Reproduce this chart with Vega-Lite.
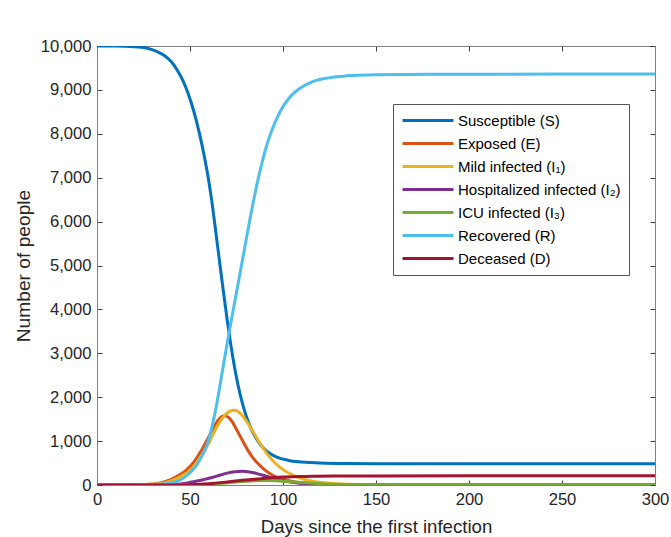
{
  "$schema": "https://vega.github.io/schema/vega-lite/v6.json",
  "width": 558,
  "height": 439,
  "autosize": {"type": "none"},
  "padding": {"left": 97, "top": 46, "right": 16, "bottom": 52},
  "background": "white",
  "config": {
    "font": "Liberation Sans",
    "view": {"stroke": null},
    "axis": {
      "domainColor": "#808080",
      "tickColor": "#404040",
      "tickSize": -5,
      "labelFont": "Liberation Sans",
      "labelFontSize": 16.6,
      "labelColor": "#262626",
      "labelPadding": 11,
      "labelFlush": false,
      "labelOverlap": false,
      "titleFont": "Liberation Sans",
      "titleFontWeight": "normal",
      "titleColor": "#262626",
      "grid": false
    }
  },
  "data": {
    "values": [
      {"s":"S","t":0,"v":10000},{"s":"S","t":10,"v":9998},{"s":"S","t":20,"v":9985},{"s":"S","t":27,"v":9950},{"s":"S","t":32,"v":9880},{"s":"S","t":36,"v":9790},{"s":"S","t":40,"v":9640},{"s":"S","t":43,"v":9460},{"s":"S","t":46,"v":9230},{"s":"S","t":49,"v":8920},{"s":"S","t":52,"v":8520},{"s":"S","t":55,"v":8020},{"s":"S","t":58,"v":7420},{"s":"S","t":60,"v":6950},{"s":"S","t":62,"v":6380},{"s":"S","t":64,"v":5720},{"s":"S","t":66,"v":5050},{"s":"S","t":68,"v":4390},{"s":"S","t":70,"v":3760},{"s":"S","t":72,"v":3180},{"s":"S","t":74,"v":2670},{"s":"S","t":76,"v":2240},{"s":"S","t":78,"v":1890},{"s":"S","t":80,"v":1600},{"s":"S","t":82,"v":1370},{"s":"S","t":84,"v":1180},{"s":"S","t":86,"v":1030},{"s":"S","t":88,"v":910},{"s":"S","t":90,"v":820},{"s":"S","t":93,"v":720},{"s":"S","t":97,"v":630},{"s":"S","t":103,"v":560},{"s":"S","t":110,"v":525},{"s":"S","t":120,"v":500},{"s":"S","t":135,"v":488},{"s":"S","t":150,"v":485},{"s":"S","t":200,"v":485},{"s":"S","t":250,"v":485},{"s":"S","t":300,"v":485},
      {"s":"E","t":0,"v":0},{"s":"E","t":20,"v":5},{"s":"E","t":30,"v":25},{"s":"E","t":35,"v":60},{"s":"E","t":40,"v":130},{"s":"E","t":44,"v":220},{"s":"E","t":48,"v":340},{"s":"E","t":52,"v":520},{"s":"E","t":56,"v":780},{"s":"E","t":60,"v":1090},{"s":"E","t":63,"v":1330},{"s":"E","t":65,"v":1470},{"s":"E","t":67,"v":1560},{"s":"E","t":69,"v":1580},{"s":"E","t":71,"v":1530},{"s":"E","t":73,"v":1420},{"s":"E","t":75,"v":1270},{"s":"E","t":77,"v":1110},{"s":"E","t":79,"v":950},{"s":"E","t":81,"v":800},{"s":"E","t":83,"v":670},{"s":"E","t":86,"v":510},{"s":"E","t":90,"v":350},{"s":"E","t":95,"v":210},{"s":"E","t":100,"v":130},{"s":"E","t":105,"v":80},{"s":"E","t":110,"v":48},{"s":"E","t":120,"v":18},{"s":"E","t":140,"v":4},{"s":"E","t":170,"v":0},{"s":"E","t":300,"v":0},
      {"s":"I1","t":0,"v":0},{"s":"I1","t":20,"v":3},{"s":"I1","t":30,"v":15},{"s":"I1","t":36,"v":45},{"s":"I1","t":41,"v":110},{"s":"I1","t":45,"v":190},{"s":"I1","t":49,"v":300},{"s":"I1","t":53,"v":470},{"s":"I1","t":57,"v":720},{"s":"I1","t":61,"v":1030},{"s":"I1","t":64,"v":1290},{"s":"I1","t":67,"v":1500},{"s":"I1","t":70,"v":1640},{"s":"I1","t":72,"v":1690},{"s":"I1","t":74,"v":1700},{"s":"I1","t":76,"v":1670},{"s":"I1","t":78,"v":1590},{"s":"I1","t":80,"v":1480},{"s":"I1","t":83,"v":1280},{"s":"I1","t":86,"v":1060},{"s":"I1","t":89,"v":860},{"s":"I1","t":92,"v":680},{"s":"I1","t":96,"v":490},{"s":"I1","t":100,"v":350},{"s":"I1","t":105,"v":230},{"s":"I1","t":110,"v":145},{"s":"I1","t":116,"v":85},{"s":"I1","t":125,"v":40},{"s":"I1","t":140,"v":12},{"s":"I1","t":160,"v":3},{"s":"I1","t":200,"v":0},{"s":"I1","t":300,"v":0},
      {"s":"I2","t":0,"v":0},{"s":"I2","t":30,"v":2},{"s":"I2","t":40,"v":10},{"s":"I2","t":47,"v":35},{"s":"I2","t":52,"v":72},{"s":"I2","t":57,"v":120},{"s":"I2","t":62,"v":172},{"s":"I2","t":66,"v":222},{"s":"I2","t":70,"v":270},{"s":"I2","t":74,"v":302},{"s":"I2","t":78,"v":315},{"s":"I2","t":82,"v":298},{"s":"I2","t":86,"v":260},{"s":"I2","t":91,"v":200},{"s":"I2","t":95,"v":150},{"s":"I2","t":100,"v":100},{"s":"I2","t":107,"v":52},{"s":"I2","t":115,"v":25},{"s":"I2","t":125,"v":10},{"s":"I2","t":140,"v":3},{"s":"I2","t":170,"v":0},{"s":"I2","t":300,"v":0},
      {"s":"I3","t":0,"v":0},{"s":"I3","t":40,"v":2},{"s":"I3","t":55,"v":12},{"s":"I3","t":65,"v":35},{"s":"I3","t":75,"v":70},{"s":"I3","t":85,"v":95},{"s":"I3","t":92,"v":100},{"s":"I3","t":100,"v":85},{"s":"I3","t":110,"v":55},{"s":"I3","t":120,"v":30},{"s":"I3","t":135,"v":12},{"s":"I3","t":150,"v":5},{"s":"I3","t":175,"v":1},{"s":"I3","t":300,"v":0},
      {"s":"R","t":0,"v":0},{"s":"R","t":20,"v":2},{"s":"R","t":30,"v":10},{"s":"R","t":39,"v":40},{"s":"R","t":45,"v":120},{"s":"R","t":50,"v":280},{"s":"R","t":53,"v":420},{"s":"R","t":56,"v":630},{"s":"R","t":58,"v":800},{"s":"R","t":60,"v":1030},{"s":"R","t":62,"v":1360},{"s":"R","t":64,"v":1760},{"s":"R","t":66,"v":2240},{"s":"R","t":68,"v":2740},{"s":"R","t":70,"v":3230},{"s":"R","t":72,"v":3700},{"s":"R","t":74,"v":4160},{"s":"R","t":76,"v":4620},{"s":"R","t":78,"v":5080},{"s":"R","t":80,"v":5540},{"s":"R","t":82,"v":6000},{"s":"R","t":84,"v":6440},{"s":"R","t":86,"v":6850},{"s":"R","t":88,"v":7220},{"s":"R","t":90,"v":7550},{"s":"R","t":92,"v":7840},{"s":"R","t":94,"v":8080},{"s":"R","t":97,"v":8380},{"s":"R","t":100,"v":8620},{"s":"R","t":104,"v":8850},{"s":"R","t":110,"v":9060},{"s":"R","t":116,"v":9190},{"s":"R","t":125,"v":9280},{"s":"R","t":134,"v":9320},{"s":"R","t":150,"v":9345},{"s":"R","t":180,"v":9355},{"s":"R","t":250,"v":9360},{"s":"R","t":300,"v":9360},
      {"s":"D","t":0,"v":0},{"s":"D","t":40,"v":2},{"s":"D","t":50,"v":8},{"s":"D","t":55,"v":15},{"s":"D","t":62,"v":35},{"s":"D","t":68,"v":60},{"s":"D","t":72,"v":80},{"s":"D","t":77,"v":102},{"s":"D","t":82,"v":120},{"s":"D","t":88,"v":145},{"s":"D","t":94,"v":165},{"s":"D","t":100,"v":182},{"s":"D","t":108,"v":195},{"s":"D","t":118,"v":202},{"s":"D","t":130,"v":205},{"s":"D","t":150,"v":207},{"s":"D","t":200,"v":208},{"s":"D","t":300,"v":208}
    ]
  },
  "layer": [
    {
      "mark": {"type": "line", "strokeWidth": 3, "interpolate": "monotone", "clip": true},
      "encoding": {
        "x": {
          "field": "t", "type": "quantitative",
          "scale": {"domain": [0, 300], "nice": false, "zero": false},
          "axis": {"orient": "bottom", "values": [0, 50, 100, 150, 200, 250, 300], "title": "Days since the first infection", "titleFontSize": 18.6, "titlePadding": 10}
        },
        "y": {
          "field": "v", "type": "quantitative",
          "scale": {"domain": [0, 10000], "nice": false},
          "axis": {"orient": "left", "values": [0, 1000, 2000, 3000, 4000, 5000, 6000, 7000, 8000, 9000, 10000], "format": ",d", "title": "Number of people", "titleFontSize": 19.2, "titlePadding": 7}
        },
        "color": {
          "field": "s", "type": "nominal",
          "scale": {"domain": ["S", "E", "I1", "I2", "I3", "R", "D"], "range": ["#0072BD", "#D95319", "#EDB120", "#7E2F8E", "#77AC30", "#4DBEEE", "#A2142F"]},
          "legend": {
            "orient": "none", "legendX": 296, "legendY": 58,
            "title": null,
            "symbolType": "stroke", "symbolSize": 2600, "symbolStrokeWidth": 3,
            "labelFont": "Liberation Sans", "labelFontSize": 15, "labelColor": "#000000", "labelLimit": 300, "labelOffset": 3,
            "clipHeight": 17, "rowPadding": 6, "padding": 8,
            "strokeColor": "#555555", "fillColor": "white",
            "labelExpr": "{'S':'Susceptible (S)','E':'Exposed (E)','I1':'Mild infected (I₁)','I2':'Hospitalized infected (I₂)','I3':'ICU infected (I₃)','R':'Recovered (R)','D':'Deceased (D)'}[datum.value]"
          }
        }
      }
    },
    {
      "mark": {"type": "point", "opacity": 0},
      "encoding": {
        "x": {
          "field": "t", "type": "quantitative",
          "scale": {"domain": [0, 300], "nice": false, "zero": false},
          "axis": {"orient": "top", "values": [0, 50, 100, 150, 200, 250, 300], "labels": false, "title": null}
        },
        "y": {
          "field": "v", "type": "quantitative",
          "scale": {"domain": [0, 10000], "nice": false},
          "axis": {"orient": "right", "values": [0, 1000, 2000, 3000, 4000, 5000, 6000, 7000, 8000, 9000, 10000], "labels": false, "title": null}
        }
      }
    }
  ],
  "resolve": {"axis": {"x": "independent", "y": "independent"}}
}
